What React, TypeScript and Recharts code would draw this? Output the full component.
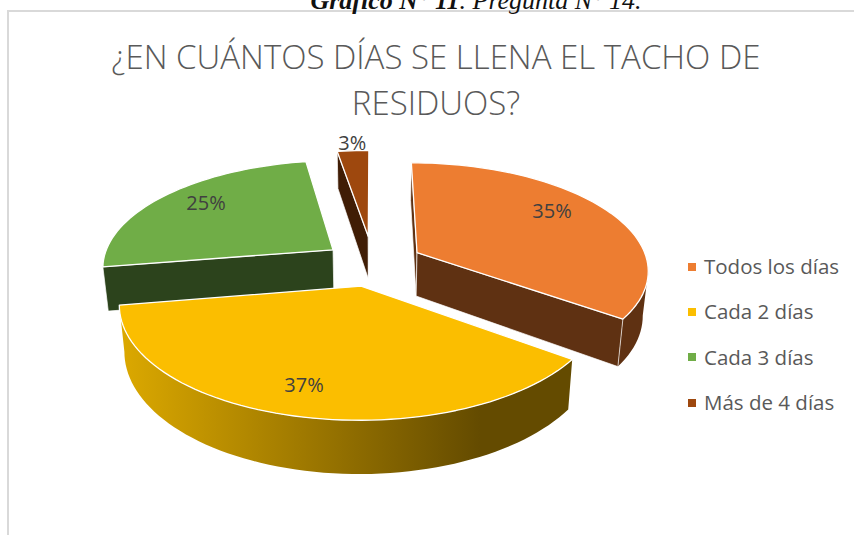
import React from "react";
import { PieChart, Pie, Legend } from "recharts";

const captionBold = "Gráfico N° 11";
const captionRest = ". Pregunta N° 14.";
const titleLines = ["¿EN CUÁNTOS DÍAS SE LLENA EL TACHO DE", "RESIDUOS?"];
const categories = ["Todos los días", "Cada 2 días", "Cada 3 días", "Más de 4 días"];
const values = [35, 37.4, 25, 2.6];

// Appearance per category, in the same order as `categories`.
const topColors = ["#ED7D31", "#FBBE00", "#70AD47", "#9E480E"];
const wallColors = ["#5F3112", "url(#yellowWall)", "#2C431C", "#401D05"];
const explode = [0.217, 0.217, 0.217, 0.26];
const labelOffsets = [
  [135, -42],
  [-57, 98],
  [-127, -47],
  [-16, -94],
];
// Pie paints in array order: the yellow slice has to lie over the green wall.
const paintOrder = [2, 3, 0, 1];
const firstPaintedShare = values[0] + values[1];

const pieData = paintOrder.map((i) => ({ name: categories[i], value: values[i], idx: i, fill: topColors[i] }));

const SQUASH = 0.46;
const PERSPECTIVE = 0.15;
const HEIGHT = 44;
const WALL_TAPER = 0.98;
const rad = (d: number) => (d * Math.PI) / 180;

function projector(cx: number, cy: number, a: number) {
  const b = a * SQUASH;
  const top = (X: number, Z: number): [number, number] => {
    const p = 1 / (1 + PERSPECTIVE * Z);
    return [cx + a * X * p, cy - b * Z * p];
  };
  const bottom = (X: number, Z: number): [number, number] => {
    const p = 1 / (1 + PERSPECTIVE * Z);
    return [cx + a * X * p * WALL_TAPER, cy - b * Z * p + HEIGHT * p];
  };
  return { top, bottom };
}

const toPath = (pts: [number, number][]) =>
  "M" + pts.map((p) => `${p[0].toFixed(2)},${p[1].toFixed(2)}`).join("L") + "Z";

function apexOf(idx: number, startAngle: number, endAngle: number) {
  const mid = 90 - (startAngle + endAngle) / 2;
  return [explode[idx] * Math.sin(rad(mid)), explode[idx] * Math.cos(rad(mid))];
}

function Slice3D(props: any) {
  const { cx, cy, outerRadius, startAngle, endAngle, payload } = props;
  const idx = payload.idx;
  const { top, bottom } = projector(cx, cy, outerRadius);
  const [ax, az] = apexOf(idx, startAngle, endAngle);
  const t0 = 90 - startAngle;
  const t1 = 90 - endAngle;
  const steps = Math.max(2, Math.ceil((t1 - t0) / 2));
  const world: [number, number][] = [];
  for (let i = 0; i <= steps; i++) {
    const t = rad(t0 + ((t1 - t0) * i) / steps);
    world.push([ax + Math.sin(t), az + Math.cos(t)]);
  }
  const tops = world.map((w) => top(w[0], w[1]));
  const bots = world.map((w) => bottom(w[0], w[1]));
  const apexTop = top(ax, az);
  const apexBot = bottom(ax, az);
  const wall = wallColors[idx];
  const sideFill = idx === 1 ? "#8A6800" : wall;

  // Outer wall: the run of rim segments that run right-to-left faces the viewer.
  const rimStart = tops.findIndex((p, i) => i < tops.length - 1 && tops[i + 1][0] < p[0]);
  let rim: React.ReactNode = null;
  if (rimStart >= 0) {
    const poly = [...tops.slice(rimStart), ...bots.slice(rimStart).reverse()];
    rim = <path d={toPath(poly)} fill={wall} stroke="none" />;
  }
  const first = tops[0];
  const last = tops[tops.length - 1];
  const faces: [number, number][][] = [];
  if (first[0] < apexTop[0]) faces.push([apexTop, first, bots[0], apexBot]);
  if (apexTop[0] < last[0]) faces.push([last, apexTop, apexBot, bots[bots.length - 1]]);

  return (
    <g>
      {idx === 1 && (
        <defs>
          <linearGradient id="yellowWall" gradientUnits="userSpaceOnUse" x1={120} y1={0} x2={480} y2={0}>
            <stop offset="0" stopColor="#DCA900" />
            <stop offset="1" stopColor="#644B00" />
          </linearGradient>
        </defs>
      )}
      {rim}
      {faces.map((f, i) => (
        <path key={i} d={toPath(f)} fill={sideFill} stroke="#fff" strokeWidth={0.8} strokeOpacity={0.85} />
      ))}
      <path d={toPath([apexTop, ...tops])} fill={topColors[idx]} stroke="#fff" strokeWidth={1.3} strokeLinejoin="round" />
    </g>
  );
}

function PercentLabel(props: any) {
  const { cx, cy, outerRadius, startAngle, endAngle, payload } = props;
  const idx = payload.idx;
  const { top } = projector(cx, cy, outerRadius);
  const [ax, az] = apexOf(idx, startAngle, endAngle);
  const [x, y] = top(ax, az);
  return (
    <text
      x={x + labelOffsets[idx][0]}
      y={y + labelOffsets[idx][1]}
      textAnchor="middle"
      dominantBaseline="central"
      fontFamily="'Open Sans', sans-serif"
      fontSize={20}
      fill="#404040"
    >
      {Math.round(values[idx])}%
    </text>
  );
}

function LegendList() {
  return (
    <div style={{ fontFamily: "'Open Sans', sans-serif", fontSize: 20.5, color: "#595959" }}>
      {categories.map((name, i) => (
        <div key={name} style={{ height: 45.3, lineHeight: "45px", whiteSpace: "nowrap", display: "flex", alignItems: "center" }}>
          <span style={{ width: 8, height: 8, background: topColors[i], marginRight: 8, display: "inline-block", flex: "none" }} />
          {name}
        </div>
      ))}
    </div>
  );
}

export default function App() {
  return (
    <div style={{ position: "absolute", left: 0, top: 0, width: 854, height: 535, overflow: "hidden", background: "#fff" }}>
      <div style={{ position: "absolute", left: 7, top: 10, width: 900, height: 600, border: "2px solid #D9D9D9" }} />
      <div
        style={{
          position: "absolute",
          left: 0,
          width: 952,
          top: -14,
          textAlign: "center",
          fontFamily: "'Liberation Serif', serif",
          fontStyle: "italic",
          fontSize: 26,
          color: "#111",
          whiteSpace: "nowrap",
        }}
      >
        <b>{captionBold}</b>
        {captionRest}
      </div>
      <div
        style={{
          position: "absolute",
          left: 0,
          width: 872,
          top: 34,
          textAlign: "center",
          fontFamily: "'Open Sans', sans-serif",
          fontWeight: 300,
          fontSize: 33,
          lineHeight: "46px",
          color: "#595959",
        }}
      >
        {titleLines.map((l) => (
          <div key={l} style={{ whiteSpace: "nowrap" }}>{l}</div>
        ))}
      </div>
      <div style={{ position: "absolute", left: 0, top: 0 }}>
        <PieChart width={854} height={535} margin={{ top: 0, right: 0, bottom: 0, left: 0 }}>
          <Pie
            data={pieData}
            dataKey="value"
            nameKey="name"
            cx={373}
            cy={263}
            outerRadius={231}
            startAngle={90 - (firstPaintedShare / 100) * 360}
            endAngle={90 - (firstPaintedShare / 100) * 360 - 360}
            shape={Slice3D}
            label={PercentLabel}
            labelLine={false}
            isAnimationActive={false}
            stroke="none"
          />
          <Legend
            layout="vertical"
            align="right"
            verticalAlign="top"
            content={<LegendList />}
            wrapperStyle={{ position: "absolute", left: 688, top: 244, width: 166 }}
          />
        </PieChart>
      </div>
    </div>
  );
}
